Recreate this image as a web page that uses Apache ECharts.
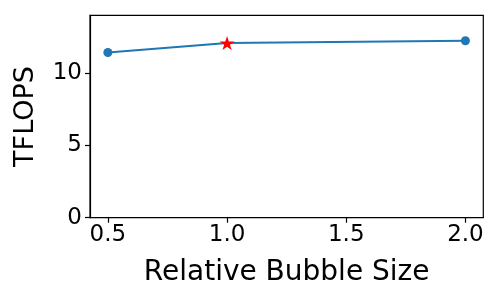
<!DOCTYPE html>
<html>
<head>
<meta charset="utf-8">
<script src="https://cdn.jsdelivr.net/npm/echarts@6/dist/echarts.min.js"></script>
<style>html,body{margin:0;padding:0;background:#fff}#c{width:500px;height:300px}</style>
</head>
<body>
<div id="c"></div>
<script>
const bubbleSizes = [0.5, 1.0, 2.0];
const tflops = [11.43, 12.08, 12.24];
const highlightX = [1.0];
const highlightY = [12.08];
const xTicks = [0.5, 1.0, 1.5, 2.0];
const yTicks = [0, 5, 10];

const star = 'path://M50,0 L61.23,34.55 L97.55,34.55 L68.17,55.9 L79.39,90.45 L50,69.1 L20.61,90.45 L31.83,55.9 L2.45,34.55 L38.77,34.55 Z';
const font = 'DejaVu Sans';
const chart = echarts.init(document.getElementById('c'), null, {renderer: 'canvas'});
chart.setOption({
  animation: false,
  backgroundColor: '#fff',
  textStyle: {fontFamily: font},
  grid: {left: 90, right: 16.7, top: 15.3, bottom: 82.3, show: true, borderColor: '#000', borderWidth: 1.2, backgroundColor: 'transparent'},
  xAxis: {
    type: 'value', min: 0.425, max: 2.075,
    name: 'Relative Bubble Size', nameLocation: 'middle', nameGap: 41,
    nameTextStyle: {fontSize: 28, color: '#000', fontFamily: font},
    axisLine: {show: true, lineStyle: {color: '#000', width: 1.2}},
    axisTick: {show: true, inside: false, length: 5, lineStyle: {color: '#000', width: 1.2}, customValues: xTicks},
    axisLabel: {fontSize: 23, color: '#000', margin: 6, fontFamily: font, customValues: xTicks, formatter: v => v.toFixed(1)},
    splitLine: {show: false}
  },
  yAxis: {
    type: 'value', min: 0, max: 14,
    name: 'TFLOPS', nameLocation: 'middle', nameGap: 51,
    nameTextStyle: {fontSize: 27, color: '#000', fontFamily: font},
    axisLine: {show: true, lineStyle: {color: '#000', width: 1.2}},
    axisTick: {show: true, inside: false, length: 5, lineStyle: {color: '#000', width: 1.2}, customValues: yTicks},
    axisLabel: {fontSize: 23, color: '#000', margin: 8, fontFamily: font, customValues: yTicks, formatter: v => String(v)},
    splitLine: {show: false}
  },
  series: [
    {
      type: 'line', data: bubbleSizes.map((x, i) => ({value: [x, tflops[i]], symbolSize: i === 1 ? 0 : 9})),
      symbol: 'circle',
      itemStyle: {color: '#1f77b4'}, lineStyle: {color: '#1f77b4', width: 2},
      z: 2
    },
    {
      type: 'scatter', data: highlightX.map((x, i) => [x, highlightY[i]]),
      symbol: star, symbolSize: [15, 14],
      itemStyle: {color: '#ff0000', opacity: 1}, z: 3
    }
  ]
});
</script>
</body>
</html>
